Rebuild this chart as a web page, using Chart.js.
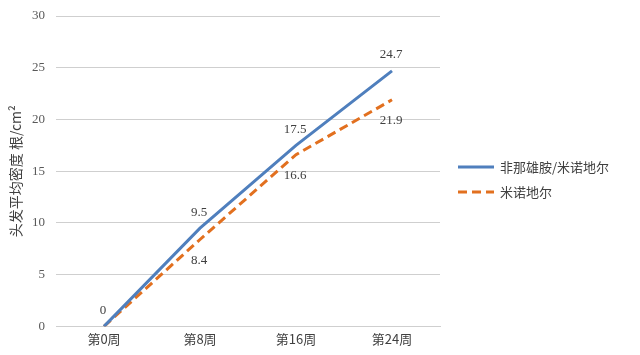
<!DOCTYPE html>
<html>
<head>
<meta charset="utf-8">
<script src="https://cdn.jsdelivr.net/npm/chart.js@4"></script>
<style>
  html, body { margin: 0; padding: 0; background: #fff; }
  #wrap { width: 640px; height: 355px; }
</style>
</head>
<body>
<div id="wrap"><canvas id="myChart" width="640" height="355"></canvas></div>
<script>
const weeks = ['第0周', '第8周', '第16周', '第24周'];
const combo = [0, 9.5, 17.5, 24.7];
const mino = [0, 8.4, 16.6, 21.9];
const seriesNames = ['非那雄胺/米诺地尔', '米诺地尔'];

const serif = '"Liberation Serif", "Times New Roman", serif';
const cjk = '"Noto Sans CJK SC", "Noto Sans", sans-serif';

// value labels: first series above the point, second below
const valueLabels = {
    id: 'valueLabels',
    afterDatasetsDraw(chart) {
        const ctx = chart.ctx;
        ctx.save();
        ctx.font = '13px ' + serif;
        ctx.fillStyle = '#404040';
        ctx.textAlign = 'center';
        ctx.textBaseline = 'middle';
        chart.data.datasets.forEach((ds, i) => {
            const meta = chart.getDatasetMeta(i);
            meta.data.forEach((pt, j) => {
                if (i === 1 && j === 0) return; // hidden behind the first "0"
                const dy = i === 0 ? -16 : 21;
                ctx.fillText(String(ds.data[j]), pt.x - 1, pt.y + dy);
            });
        });
        ctx.restore();
    }
};

// legend drawn at the right, like the original
const sideLegend = {
    id: 'sideLegend',
    afterDraw(chart) {
        const ctx = chart.ctx;
        ctx.save();
        chart.data.datasets.forEach((ds, i) => {
            const y = 167 + i * 25;
            ctx.beginPath();
            ctx.strokeStyle = ds.borderColor;
            ctx.lineWidth = 3;
            ctx.setLineDash(ds.borderDash || []);
            ctx.moveTo(458, y);
            ctx.lineTo(494, y);
            ctx.stroke();
            ctx.setLineDash([]);
            ctx.font = '13px ' + cjk;
            ctx.fillStyle = '#404040';
            ctx.textBaseline = 'middle';
            ctx.fillText(ds.label, 500, y);
        });
        ctx.restore();
    }
};

const config = {
    type: 'line',
    data: {
        labels: weeks,
        datasets: [{
            label: seriesNames[0],
            data: combo,
            borderColor: '#4F7FBD',
            borderWidth: 3,
            pointRadius: 0,
            fill: false
        }, {
            label: seriesNames[1],
            data: mino,
            borderColor: '#E2701F',
            borderWidth: 3,
            borderDash: [9, 5],
            pointRadius: 0,
            fill: false
        }]
    },
    options: {
        responsive: false,
        animation: false,
        layout: { padding: { top: 16, right: 200, left: 7, bottom: 3 } },
        plugins: {
            legend: { display: false },
            tooltip: { enabled: false }
        },
        scales: {
            x: {
                offset: true,
                grid: { display: false, drawTicks: false },
                border: { color: '#CFCFCF' },
                ticks: { font: { family: cjk, size: 13 }, color: '#404040', padding: 5, maxRotation: 0 }
            },
            y: {
                min: 0,
                max: 30,
                ticks: { stepSize: 5, font: { family: serif, size: 13 }, color: '#595959', padding: 11 },
                grid: { color: '#CFCFCF', drawTicks: false },
                border: { display: false },
                title: {
                    display: true,
                    text: '头发平均密度 根/cm²',
                    font: { family: cjk, size: 14 },
                    color: '#404040',
                    padding: { top: 0, bottom: 4 }
                },
                afterFit(scale) {
                    scale.width = 49;
                    scale.paddingTop = 0;
                    scale.paddingBottom = 0;
                }
            }
        }
    },
    plugins: [valueLabels, sideLegend]
};

var myChart = new Chart(document.getElementById('myChart'), config);
</script>
</body>
</html>
